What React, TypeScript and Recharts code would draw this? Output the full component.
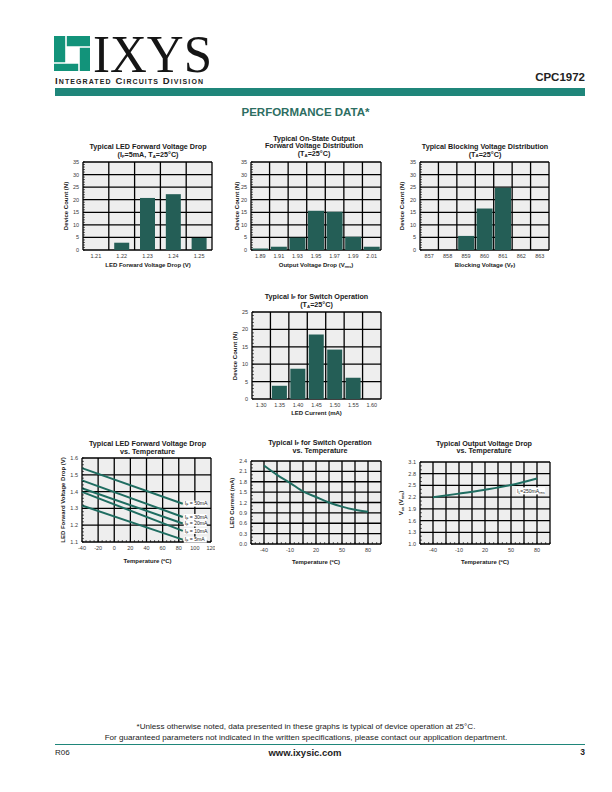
import React from 'react'
import { BarChart, Bar, LineChart, Line, XAxis, YAxis, CartesianGrid, ReferenceDot } from 'recharts'

const FONT = '"Liberation Sans", Arial, Helvetica, sans-serif'
const SERIF = '"Liberation Serif", "Times New Roman", serif'
const INK = '#1a1a1a'
const TICK_INK = '#3a3a3a'
const BAR_TEAL = '#245e56'
const LINE_TEAL = '#1f6d61'
const LOGO_TEAL = '#12937a'
const HEADER_TEAL = '#1f867a'
const TITLE_TEAL = '#2d6e62'
const PLOT_BG = '#eeeeee'

// histograms (device counts per bin)
const VF_BINS = ['1.21', '1.22', '1.23', '1.24', '1.25']
const VF_COUNTS = [0, 2.9, 20.7, 22.2, 4.8]

const VDROP_BINS = ['1.89', '1.91', '1.93', '1.95', '1.97', '1.99', '2.01']
const VDROP_COUNTS = [0.6, 1.3, 4.9, 15.6, 15.2, 5.3, 1.3]

const VBLOCK_BINS = ['857', '858', '859', '860', '861', '862', '863']
const VBLOCK_COUNTS = [0, 0, 5.6, 16.5, 24.8, 0, 0]

const IF_BINS = ['1.30', '1.35', '1.40', '1.45', '1.50', '1.55', '1.60']
const IF_COUNTS = [0, 3.8, 8.7, 18.5, 14.2, 6.1, 0]

const COUNT_TICKS_35 = [0, 5, 10, 15, 20, 25, 30, 35]
const COUNT_TICKS_25 = [0, 5, 10, 15, 20, 25]

// LED forward voltage vs temperature
const VF_TEMPS = [-40, 85]
const VF_50MA = [1.54, 1.328]
const VF_30MA = [1.467, 1.249]
const VF_20MA = [1.42, 1.21]
const VF_10MA = [1.398, 1.166]
const VF_5MA = [1.317, 1.114]
const VF_T_TICKS = [-40, -20, 0, 20, 40, 60, 80, 100, 120]
const VF_V_TICKS = [1.1, 1.2, 1.3, 1.4, 1.5, 1.6]

// IF for switch operation vs temperature
const IF_TEMPS = [-40, -25, -10, 5, 20, 35, 50, 65, 80]
const IF_MA = [2.27, 2.0, 1.77, 1.52, 1.36, 1.2, 1.08, 0.99, 0.93]
const IF_MA_TICKS = [0, 0.3, 0.6, 0.9, 1.2, 1.5, 1.8, 2.1, 2.4]

// output voltage drop vs temperature
const VON_TEMPS = [-40, -10, 20, 50, 80]
const VON_V = [2.2, 2.29, 2.39, 2.51, 2.68]
const VON_V_TICKS = [1.0, 1.3, 1.6, 1.9, 2.2, 2.5, 2.8, 3.1]

const TEMP_TICKS = [-40, -10, 20, 50, 80]
const TEMP_GRID = [-55, -40, -25, -10, 5, 20, 35, 50, 65, 80, 95]

const PAD_L = 30
const PAD_R = 4
const PAD_T = 4
const PAD_B = 14

type Box = { x: number; y: number; w: number; h: number }

const steps = (a: number, b: number, s: number) =>
  Array.from({ length: Math.round((b - a) / s) + 1 }, (_, i) => +(a + i * s).toFixed(4))

// grid lines on the column edges of a histogram
const bandEdges = (n: number) => ({ offset }: any) =>
  Array.from({ length: n + 1 }, (_, i) => offset.left + (offset.width * i) / n)

const levelLines = (values: number[], lo: number, hi: number) => ({ offset }: any) =>
  values.map((v) => offset.top + (offset.height * (hi - v)) / (hi - lo))

const columnLines = (values: number[], lo: number, hi: number) => ({ offset }: any) =>
  values.map((v) => offset.left + (offset.width * (v - lo)) / (hi - lo))

const isMajor = (major: number[], v: number) => major.some((m) => Math.abs(m - v) < 1e-6)

const yTick = (major: number[], fmt: (v: number) => string) => (p: any) => {
  const v = p.payload.value
  if (!isMajor(major, v)) return <g />
  return (
    <text x={p.x} y={p.y + 2} textAnchor="end" fontSize={5.5} fontFamily={FONT} fill={TICK_INK}>
      {fmt(v)}
    </text>
  )
}

const xTick = (major: number[] | null) => (p: any) => {
  const v = p.payload.value
  if (major && !isMajor(major, v)) return <g />
  return (
    <text x={p.x} y={p.y + 4} textAnchor="middle" fontSize={5.5} fontFamily={FONT} fill={TICK_INK}>
      {String(v)}
    </text>
  )
}

function Sub({ children }: { children: React.ReactNode }) {
  return <span style={{ fontSize: '0.6em', position: 'relative', top: '0.22em' }}>{children}</span>
}

function Caption({ x, y, size = 7.2, children }: { x: number; y: number; size?: number; children: React.ReactNode }) {
  return (
    <div
      style={{
        position: 'absolute', left: x, top: y, transform: 'translate(-50%, -50%)',
        fontSize: size, fontWeight: 'bold', lineHeight: 1, whiteSpace: 'nowrap', fontFamily: FONT, color: INK,
      }}
    >
      {children}
    </div>
  )
}

function SideCaption({ x, y, children }: { x: number; y: number; children: React.ReactNode }) {
  return (
    <div
      style={{
        position: 'absolute', left: x, top: y, transform: 'translate(-50%, -50%) rotate(-90deg)',
        fontSize: 6, fontWeight: 'bold', lineHeight: 1, whiteSpace: 'nowrap', fontFamily: FONT, color: INK,
      }}
    >
      {children}
    </div>
  )
}

function Histogram({ plot, bins, counts, yTicks, gap }: {
  plot: Box; bins: string[]; counts: number[]; yTicks: number[]; gap: string
}) {
  const yMax = yTicks[yTicks.length - 1]
  const data = bins.map((bin, i) => ({ bin, n: counts[i] }))
  return (
    <div style={{ position: 'absolute', left: plot.x - PAD_L, top: plot.y - PAD_T }}>
      <BarChart
        width={plot.w + PAD_L + PAD_R}
        height={plot.h + PAD_T + PAD_B}
        data={data}
        margin={{ top: PAD_T, right: PAD_R, bottom: 0, left: 0 }}
        barCategoryGap={gap}
      >
        <CartesianGrid
          fill={PLOT_BG}
          fillOpacity={1}
          stroke="#000"
          strokeWidth={1.3}
          verticalCoordinatesGenerator={bandEdges(bins.length)}
          horizontalCoordinatesGenerator={levelLines(yTicks, 0, yMax)}
        />
        <XAxis dataKey="bin" height={PAD_B} axisLine={false} tickLine={false} tickSize={0} tickMargin={4} interval={0} tick={xTick(null)} />
        <YAxis
          width={PAD_L}
          domain={[0, yMax]}
          ticks={steps(0, yMax, 1)}
          interval={0}
          axisLine={false}
          tickLine={{ stroke: '#000', strokeWidth: 0.6 }}
          tickSize={-2}
          tickMargin={6}
          tick={yTick(yTicks, (v) => String(v))}
        />
        <Bar dataKey="n" fill={BAR_TEAL} isAnimationActive={false} />
      </BarChart>
    </div>
  )
}

function TempChart({ plot, data, xDomain, xTicks, xGrid, xMinor, yDomain, yTicks, yMinor, children }: {
  plot: Box; data: any[]; xDomain: [number, number]; xTicks: number[]; xGrid: number[]; xMinor: number
  yDomain: [number, number]; yTicks: number[]; yMinor: number; children: React.ReactNode
}) {
  return (
    <div style={{ position: 'absolute', left: plot.x - PAD_L, top: plot.y - PAD_T }}>
      <LineChart
        width={plot.w + PAD_L + PAD_R}
        height={plot.h + PAD_T + PAD_B}
        data={data}
        margin={{ top: PAD_T, right: PAD_R, bottom: 0, left: 0 }}
      >
        <CartesianGrid
          fill={PLOT_BG}
          fillOpacity={1}
          stroke="#000"
          strokeWidth={1.3}
          verticalCoordinatesGenerator={columnLines(xGrid, xDomain[0], xDomain[1])}
          horizontalCoordinatesGenerator={levelLines(yTicks, yDomain[0], yDomain[1])}
        />
        <XAxis
          dataKey="t"
          type="number"
          domain={xDomain}
          ticks={steps(xDomain[0], xDomain[1], xMinor)}
          interval={0}
          height={PAD_B}
          axisLine={false}
          tickLine={{ stroke: '#000', strokeWidth: 0.6 }}
          tickSize={-2}
          tickMargin={6}
          tick={xTick(xTicks)}
        />
        <YAxis
          width={PAD_L}
          type="number"
          domain={yDomain}
          ticks={steps(yDomain[0], yDomain[1], yMinor)}
          interval={0}
          axisLine={false}
          tickLine={{ stroke: '#000', strokeWidth: 0.6 }}
          tickSize={-2}
          tickMargin={6}
          tick={yTick(yTicks, (v) => v.toFixed(1))}
        />
        {children}
      </LineChart>
    </div>
  )
}

// white-backed series tag at the end of a curve
const endTag = (sub: string, rest: string, w: number) => (p: any) => (
  <g>
    <rect x={p.cx + 1} y={p.cy - 3} width={w} height={6} fill="#fff" />
    <text x={p.cx + 2} y={p.cy + 1.8} fontSize={5.1} fontFamily={FONT} fill={INK}>
      I<tspan fontSize={3.5} dy={1}>{sub}</tspan>
      <tspan dy={-1}>{rest}</tspan>
    </text>
  </g>
)

const vfData = VF_TEMPS.map((t, i) => ({
  t, a50: VF_50MA[i], a30: VF_30MA[i], a20: VF_20MA[i], a10: VF_10MA[i], a5: VF_5MA[i],
}))
const ifData = IF_TEMPS.map((t, i) => ({ t, ma: IF_MA[i] }))
const vonData = VON_TEMPS.map((t, i) => ({ t, v: VON_V[i] }))

const VF_SERIES = [
  { key: 'a50', vals: VF_50MA, tag: ' = 50mA' },
  { key: 'a30', vals: VF_30MA, tag: ' = 30mA' },
  { key: 'a20', vals: VF_20MA, tag: ' = 20mA' },
  { key: 'a10', vals: VF_10MA, tag: ' = 10mA' },
  { key: 'a5', vals: VF_5MA, tag: ' = 5mA' },
]

function Header() {
  return (
    <svg width={612} height={125} style={{ position: 'absolute', left: 0, top: 0 }}>
      <rect x={54} y={36} width={36} height={35} fill={LOGO_TEAL} />
      <rect x={66} y={47} width={13} height={16} fill="#fff" />
      <path d="M66 36 V63 M66 47 H90 M79 47 V71 M54 63 H79" stroke="#fff" strokeWidth={1.6} fill="none" />
      <text x={93} y={72} fontFamily={SERIF} fontSize={53} textLength={119} lengthAdjust="spacingAndGlyphs" fill="#151515">
        IXYS
      </text>
      <text
        x={55} y={84} fontFamily={FONT} fontWeight="bold" fontSize={9.5} textLength={148} lengthAdjust="spacing"
        fill="#222" style={{ fontVariant: 'small-caps' }}
      >
        Integrated Circuits Division
      </text>
      <text x={585} y={81} textAnchor="end" fontFamily={FONT} fontWeight="bold" fontSize={11.5} fill="#222">
        CPC1972
      </text>
      <rect x={55} y={88} width={530} height={8} fill={HEADER_TEAL} />
      <text x={305.5} y={116} textAnchor="middle" fontFamily={FONT} fontWeight="bold" fontSize={11.5} fill={TITLE_TEAL}>
        PERFORMANCE DATA*
      </text>
    </svg>
  )
}

function Footer() {
  return (
    <svg width={612} height={60} style={{ position: 'absolute', left: 0, top: 715 }}>
      <text x={306} y={14} textAnchor="middle" fontFamily={FONT} fontSize={8.1} fill="#222">
        *Unless otherwise noted, data presented in these graphs is typical of device operation at 25°C.
      </text>
      <text x={306} y={25} textAnchor="middle" fontFamily={FONT} fontSize={8.1} fill="#222">
        For guaranteed parameters not indicated in the written specifications, please contact our application department.
      </text>
      <line x1={55} x2={585} y1={29.5} y2={29.5} stroke={HEADER_TEAL} strokeWidth={1} />
      <text x={55} y={40} fontFamily={FONT} fontSize={8} fill="#222">R06</text>
      <text x={305} y={41} textAnchor="middle" fontFamily={FONT} fontWeight="bold" fontSize={9.5} fill="#222">
        www.ixysic.com
      </text>
      <text x={585} y={40} textAnchor="end" fontFamily={FONT} fontWeight="bold" fontSize={8.5} fill="#222">3</text>
    </svg>
  )
}

export default function App() {
  const c1: Box = { x: 83, y: 162, w: 129, h: 88 }
  const c2: Box = { x: 251, y: 162, w: 130, h: 88 }
  const c3: Box = { x: 420, y: 162, w: 129, h: 88 }
  const c4: Box = { x: 252, y: 312, w: 129, h: 87 }
  const c5: Box = { x: 82, y: 458, w: 129, h: 84 }
  const c6: Box = { x: 251, y: 461, w: 130, h: 83 }
  const c7: Box = { x: 420, y: 462, w: 130, h: 82 }

  return (
    <div style={{ position: 'absolute', left: 0, top: 0, width: 612, height: 792, background: '#fff', fontFamily: FONT }}>
      <Header />

      {/* LED forward voltage histogram */}
      <Caption x={148} y={147}>Typical LED Forward Voltage Drop</Caption>
      <Caption x={148} y={155}>(I<Sub>F</Sub>=5mA, T<Sub>A</Sub>=25°C)</Caption>
      <Histogram plot={c1} bins={VF_BINS} counts={VF_COUNTS} yTicks={COUNT_TICKS_35} gap="21%" />
      <Caption x={148} y={264.5} size={6}>LED Forward Voltage Drop (V)</Caption>
      <SideCaption x={65.5} y={206}>Device Count (N)</SideCaption>

      {/* on-state output voltage histogram */}
      <Caption x={314} y={138.5}>Typical On-State Output</Caption>
      <Caption x={314} y={146}>Forward Voltage Distribution</Caption>
      <Caption x={314} y={154}>(T<Sub>A</Sub>=25°C)</Caption>
      <Histogram plot={c2} bins={VDROP_BINS} counts={VDROP_COUNTS} yTicks={COUNT_TICKS_35} gap="7%" />
      <Caption x={316} y={265} size={6}>Output Voltage Drop (V<Sub>rms</Sub>)</Caption>
      <SideCaption x={236.5} y={206}>Device Count (N)</SideCaption>

      {/* blocking voltage histogram */}
      <Caption x={485} y={146.5}>Typical Blocking Voltage Distribution</Caption>
      <Caption x={485} y={154.5}>(T<Sub>A</Sub>=25°C)</Caption>
      <Histogram plot={c3} bins={VBLOCK_BINS} counts={VBLOCK_COUNTS} yTicks={COUNT_TICKS_35} gap="7%" />
      <Caption x={485} y={265} size={6}>Blocking Voltage (V<Sub>P</Sub>)</Caption>
      <SideCaption x={402} y={206}>Device Count (N)</SideCaption>

      {/* IF histogram */}
      <Caption x={316.5} y={296.5}>Typical I<Sub>F</Sub> for Switch Operation</Caption>
      <Caption x={316.5} y={305}>(T<Sub>A</Sub>=25°C)</Caption>
      <Histogram plot={c4} bins={IF_BINS} counts={IF_COUNTS} yTicks={COUNT_TICKS_25} gap="8%" />
      <Caption x={316.5} y={412.5} size={6}>LED Current (mA)</Caption>
      <SideCaption x={235} y={355.5}>Device Count (N)</SideCaption>

      {/* VF vs temperature */}
      <Caption x={147.5} y={443.5}>Typical LED Forward Voltage Drop</Caption>
      <Caption x={147.5} y={451.5}>vs. Temperature</Caption>
      <TempChart
        plot={c5} data={vfData} xDomain={[-40, 120]} xTicks={VF_T_TICKS} xGrid={VF_T_TICKS} xMinor={5}
        yDomain={[1.1, 1.6]} yTicks={VF_V_TICKS} yMinor={0.02}
      >
        {VF_SERIES.map((s) => (
          <Line key={s.key} dataKey={s.key} stroke={LINE_TEAL} strokeWidth={2} dot={false} isAnimationActive={false} />
        ))}
        {VF_SERIES.map((s) => (
          <ReferenceDot
            key={s.key + '-tag'}
            x={VF_TEMPS[VF_TEMPS.length - 1]}
            y={s.vals[s.vals.length - 1]}
            shape={endTag('F', s.tag, 23)}
          />
        ))}
      </TempChart>
      <Caption x={147.5} y={561} size={6}>Temperature (ºC)</Caption>
      <SideCaption x={62.5} y={500}>LED Forward Voltage Drop (V)</SideCaption>

      {/* IF vs temperature */}
      <Caption x={320} y={442.5}>Typical I<Sub>F</Sub> for Switch Operation</Caption>
      <Caption x={320} y={450.5}>vs. Temperature</Caption>
      <TempChart
        plot={c6} data={ifData} xDomain={[-55, 95]} xTicks={TEMP_TICKS} xGrid={TEMP_GRID} xMinor={5}
        yDomain={[0, 2.4]} yTicks={IF_MA_TICKS} yMinor={0.1}
      >
        <Line type="monotone" dataKey="ma" stroke={LINE_TEAL} strokeWidth={2} dot={false} isAnimationActive={false} />
      </TempChart>
      <Caption x={316} y={561.5} size={6}>Temperature (ºC)</Caption>
      <SideCaption x={231.5} y={502.5}>LED Current (mA)</SideCaption>

      {/* output voltage drop vs temperature */}
      <Caption x={484} y={443.5}>Typical Output Voltage Drop</Caption>
      <Caption x={484} y={451}>vs. Temperature</Caption>
      <TempChart
        plot={c7} data={vonData} xDomain={[-55, 95]} xTicks={TEMP_TICKS} xGrid={TEMP_GRID} xMinor={5}
        yDomain={[1.0, 3.1]} yTicks={VON_V_TICKS} yMinor={0.1}
      >
        <Line type="monotone" dataKey="v" stroke={LINE_TEAL} strokeWidth={2} dot={false} isAnimationActive={false} />
        <ReferenceDot
          x={57}
          y={2.36}
          shape={(p: any) => (
            <g>
              <rect x={p.cx - 1} y={p.cy - 3.5} width={29} height={7} fill="#fff" />
              <text x={p.cx} y={p.cy + 2} fontSize={5} fontFamily={FONT} fill={INK}>
                I<tspan fontSize={3.4} dy={1.2}>L</tspan>
                <tspan dy={-1.2}>=250mA</tspan>
                <tspan fontSize={3.4} dy={1.2}>rms</tspan>
              </text>
            </g>
          )}
        />
      </TempChart>
      <Caption x={485} y={561.5} size={6}>Temperature (ºC)</Caption>
      <SideCaption x={400.5} y={503}>V<Sub>on</Sub> (V<Sub>rms</Sub>)</SideCaption>

      <Footer />
    </div>
  )
}
